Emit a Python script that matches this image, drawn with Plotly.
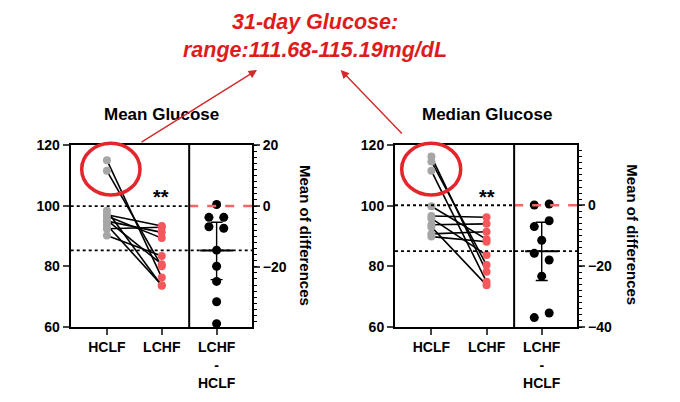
import plotly.graph_objects as go

# --- data (mg/dL) ---
categories = ["HCLF", "LCHF", "LCHF<br>-<br>HCLF"]

mean_hclf = [115.0, 111.5, 98.3, 93.6, 95.2, 96.6, 90.2, 94.9, 97.0, 92.4]
mean_lchf = [76.3, 80.0, 73.6, 73.8, 80.7, 89.3, 83.4, 91.2, 93.3, 92.9]
mean_diff = [0.5, -3.7, -3.7, -6.8, -7.3, -14.5, -19.8, -24.8, -31.5, -38.7]
mean_jitter = [0, -0.14, 0.13, -0.14, 0.13, 0, 0, 0, 0, 0]
mean_summary = [-14.6, -5.3, -24.2]   # mean, upper CI, lower CI

median_hclf = [116.2, 114.6, 111.5, 99.8, 96.6, 95.8, 93.7, 93.0, 90.7, 89.8]
median_lchf = [78.2, 80.4, 74.9, 88.9, 96.2, 83.7, 94.0, 73.8, 91.4, 88.1]
median_diff = [0.1, 0.4, -5.1, -7.0, -11.5, -15.8, -18.0, -23.3, -36.9, -35.4]
median_jitter = [-0.135, 0.135, 0.135, -0.135, 0, -0.135, 0.135, 0, -0.135, 0.135]
median_summary = [-15.1, -5.6, -24.7]

GRAY = "#a6a6a6"
PINK = "#f4585c"
RED = "#e3262b"
FONT = "Liberation Sans"
W, H = 680, 402

fig = go.Figure()


def add_panel(n, hclf, lchf, diff, jitter, summary):
    xa = "x" if n == 1 else "x%d" % n
    ya = "y" if n == 1 else "y%d" % (2 * n - 1)
    yd = "y%d" % (2 * n)
    ym = "y%d" % (4 + n)   # axis carrying the small ticks

    # paired lines
    lx, ly = [], []
    for a, b in zip(hclf, lchf):
        lx += [0, 1, None]
        ly += [a, b, None]
    fig.add_trace(go.Scatter(x=lx, y=ly, mode="lines", xaxis=xa, yaxis=ya,
                             line=dict(color="black", width=1.6), hoverinfo="skip"))
    fig.add_trace(go.Scatter(x=[0] * len(hclf), y=hclf, mode="markers", xaxis=xa, yaxis=ya,
                             marker=dict(color=GRAY, size=8)))
    fig.add_trace(go.Scatter(x=[1] * len(lchf), y=lchf, mode="markers", xaxis=xa, yaxis=ya,
                             marker=dict(color=PINK, size=8)))

    m, hi, lo = summary
    # reference lines on the difference axis
    fig.add_trace(go.Scatter(x=[-0.66, 1.5], y=[0, 0], mode="lines", xaxis=xa, yaxis=yd,
                             line=dict(color="black", width=1.8, dash="dot")))
    fig.add_trace(go.Scatter(x=[1.5, 2.65], y=[0, 0], mode="lines", xaxis=xa, yaxis=ym,
                             line=dict(color="#f06666", width=2.6, dash="dash")))
    fig.add_trace(go.Scatter(x=[-0.66, 2.65], y=[m, m], mode="lines", xaxis=xa, yaxis=yd,
                             line=dict(color="black", width=1.8, dash="dot")))
    fig.add_trace(go.Scatter(x=[1.7, 2.3], y=[m, m], mode="lines", xaxis=xa, yaxis=yd,
                             line=dict(color="black", width=2)))
    fig.add_trace(go.Scatter(x=[2], y=[m], mode="markers", xaxis=xa, yaxis=yd,
                             marker=dict(size=1, color="rgba(0,0,0,0)"),
                             error_y=dict(type="data", symmetric=False, array=[hi - m],
                                          arrayminus=[m - lo], width=6, thickness=1.4,
                                          color="black")))
    fig.add_trace(go.Scatter(x=[2 + j for j in jitter], y=diff, mode="markers",
                             xaxis=xa, yaxis=yd, marker=dict(color="black", size=9)))

    # divider between paired and difference part
    fig.add_shape(type="line", xref=xa, yref=ya + " domain", x0=1.5, x1=1.5, y0=0, y1=1,
                  line=dict(color="black", width=2))


add_panel(1, mean_hclf, mean_lchf, mean_diff, mean_jitter, mean_summary)
add_panel(2, median_hclf, median_lchf, median_diff, median_jitter, median_summary)

tickfont = dict(family=FONT, size=14, color="black", weight="bold")
ydom = [1 - 327 / H, 1 - 145 / H]
xaxis_common = dict(range=[-0.66, 2.645], tickvals=[0, 1, 2], ticktext=categories,
                    ticks="outside", ticklen=6, tickwidth=2, showline=True, linewidth=2,
                    linecolor="black", mirror=True, showgrid=False, zeroline=False,
                    tickfont=tickfont, automargin=False)
yaxis_common = dict(range=[60, 120], dtick=20, ticks="outside", ticklen=6, tickwidth=2,
                    showline=True, linewidth=2, linecolor="black", showgrid=False,
                    zeroline=False, tickfont=tickfont, domain=ydom, automargin=False)
ydiff_common = dict(side="right", ticks="outside", ticklen=6, tickwidth=2,
                    showline=True, linewidth=2, linecolor="black", showgrid=False,
                    zeroline=False, tickfont=tickfont, tick0=0, dtick=20, automargin=False)
# small ticks every 2 units on the difference axis
yminor_common = dict(side="right", ticks="outside", ticklen=3.5, tickwidth=1.2,
                     tickcolor="black", showticklabels=False, showline=False,
                     showgrid=False, zeroline=False, tickvals=list(range(-40, 21, 2)),
                     automargin=False)

fig.update_layout(
    width=W, height=H,
    margin=dict(l=0, r=0, t=0, b=0, autoexpand=False),
    plot_bgcolor="white", paper_bgcolor="white",
    showlegend=False,
    font=dict(family=FONT, color="black"),
    xaxis=dict(xaxis_common, domain=[70.7 / W, 252 / W], anchor="y"),
    yaxis=dict(yaxis_common, anchor="x"),
    yaxis2=dict(ydiff_common, range=[-39.8, 20.1], overlaying="y", anchor="x"),
    yaxis5=dict(yminor_common, range=[-39.8, 20.1], overlaying="y", anchor="x"),
    xaxis2=dict(xaxis_common, domain=[395 / W, 577.3 / W], anchor="y3"),
    yaxis3=dict(yaxis_common, anchor="x2"),
    yaxis4=dict(ydiff_common, range=[-40, 19.8], overlaying="y3", anchor="x2"),
    yaxis6=dict(yminor_common, range=[-40, 19.8], overlaying="y3", anchor="x2"),
)

# red circles around the high HCLF values
for x0, x1 in [(81.7, 140), (401.7, 460.7)]:
    fig.add_shape(type="circle", xref="paper", yref="paper",
                  x0=x0 / W, x1=x1 / W, y0=1 - 195 / H, y1=1 - 143.3 / H,
                  line=dict(color=RED, width=3.5))


def label(text, xpix, ypix, font, angle=0):
    fig.add_annotation(text=text, x=xpix / W, y=1 - ypix / H, xref="paper", yref="paper",
                       xanchor="center", yanchor="middle", showarrow=False,
                       textangle=angle, font=font)


bold = dict(family=FONT, size=17, color="black")
label("<b>Mean Glucose</b>", 161, 115, bold)
label("<b>Median Glucose</b>", 486.7, 115, bold)

for xpix in [160.5, 486.7]:
    label("<b>**</b>", xpix, 197, dict(family=FONT, size=20))

for xpix in [305, 631.7]:
    label("<b>Mean of differences</b>", xpix, 235, dict(family=FONT, size=15), angle=90)

title_font = dict(family=FONT, size=21.5, color="#e01b1b")
label("<b><i>31-day Glucose:</i></b>", 315, 22, title_font)
label("<b><i>range:111.68-115.19mg/dL</i></b>", 315, 50, title_font)

# arrows from the circles to the caption (head position, tail offset in pixels)
for head, tail in [((257, 70), (140, 143)), ((340.7, 70), (403.3, 135))]:
    fig.add_annotation(x=head[0] / W, y=1 - head[1] / H, ax=tail[0] - head[0],
                       ay=tail[1] - head[1], xref="paper", yref="paper", axref="pixel",
                       ayref="pixel", text="", showarrow=True, arrowhead=2, arrowsize=1.2,
                       arrowwidth=1.4, arrowcolor="#d42a2a")

fig.write_html("out.html", config={"displayModeBar": False},
               post_script="document.body.style.margin='0';")
